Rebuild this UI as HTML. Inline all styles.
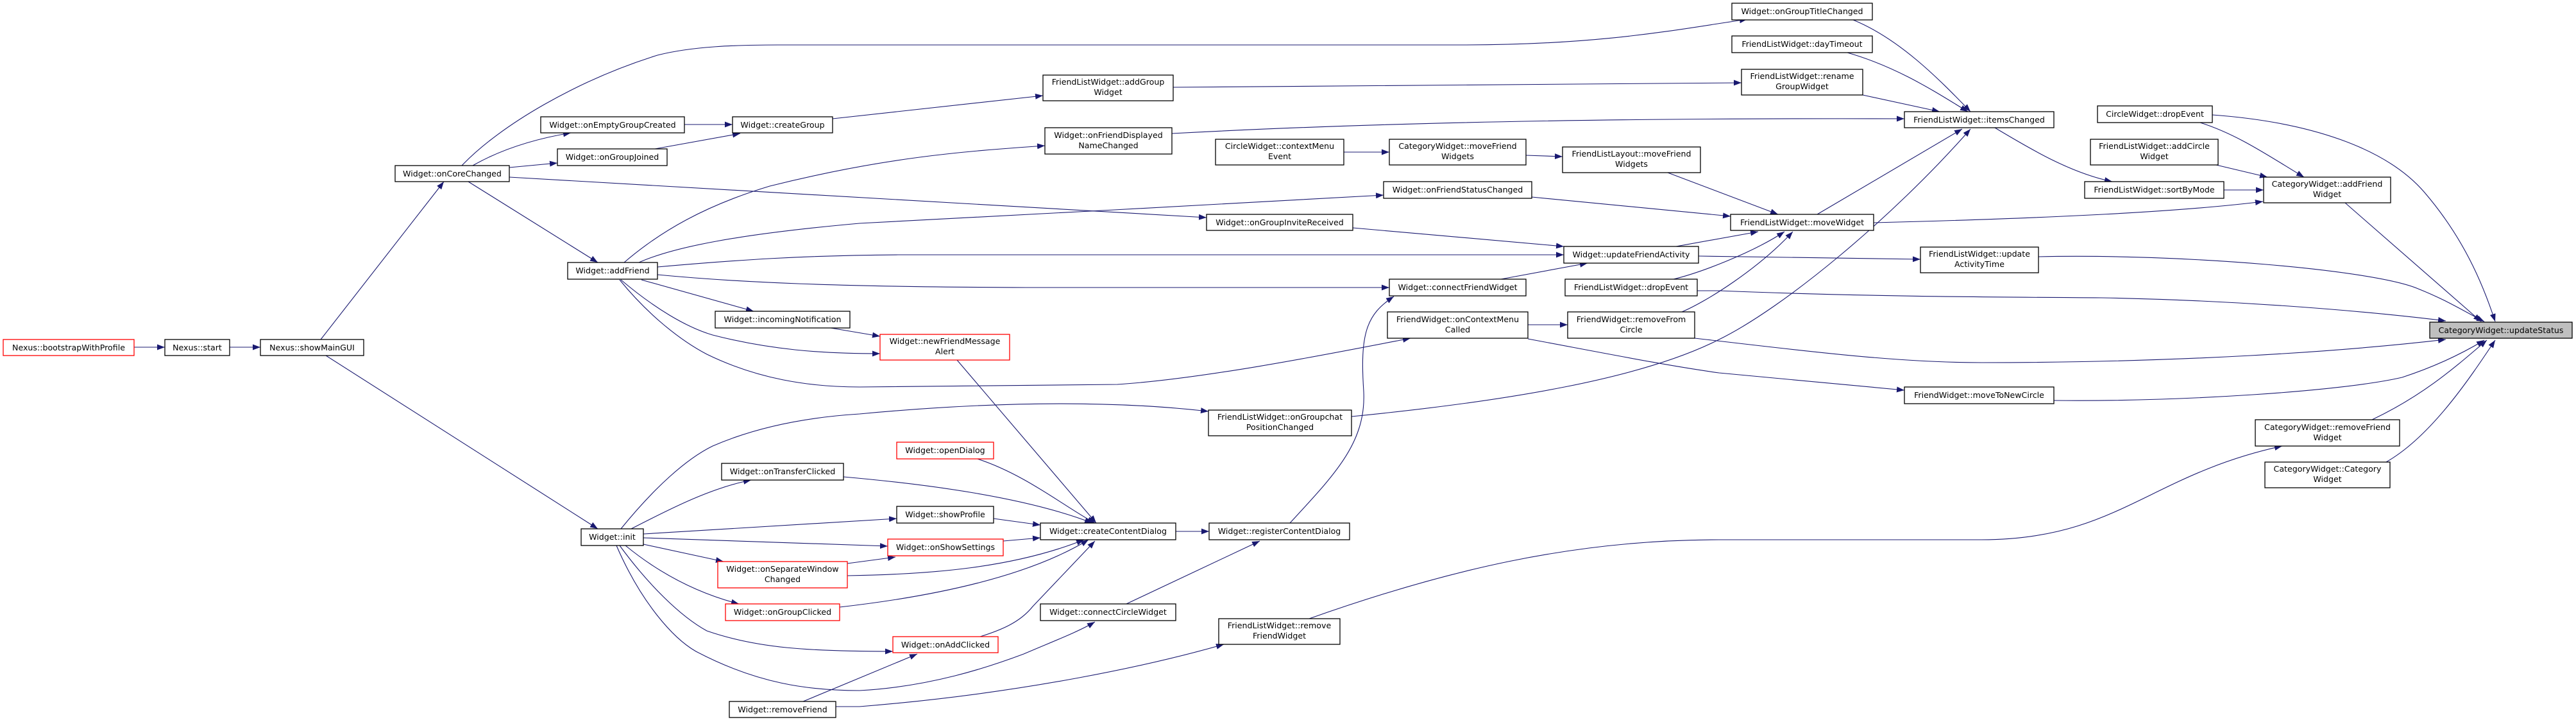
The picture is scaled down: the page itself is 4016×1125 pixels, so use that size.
<!DOCTYPE html>
<html><head><meta charset="utf-8"><style>
html,body{margin:0;padding:0;background:#fff;}
svg{display:block;}
text{font-family:"DejaVu Sans","Liberation Sans",sans-serif;font-size:12.6px;fill:#000;text-anchor:middle;}
.n{fill:#fff;stroke:#000;stroke-width:1.3;}
.r{fill:#fff;stroke:#ff0000;stroke-width:1.3;}
.g{fill:#bfbfbf;stroke:#000;stroke-width:1.3;}
.e{fill:none;stroke:#191970;stroke-width:1.1;marker-end:url(#a);}
</style></head><body>
<svg width="4016" height="1125" viewBox="0 0 4016 1125" xmlns="http://www.w3.org/2000/svg">
<defs><marker id="a" markerUnits="userSpaceOnUse" markerWidth="14" markerHeight="10" refX="12" refY="4.5" orient="auto"><path d="M0,0 L12,4.5 L0,9 z" fill="#191970"/></marker></defs>
<g>
<path class="e" d="M209,541 L257,541"/>
<path class="e" d="M358,541 L406,541"/>
<path class="e" d="M500,529 L692,283"/>
<path class="e" d="M508,554 L932,824"/>
<path class="e" d="M737,258 Q800,222 890,207"/>
<path class="e" d="M794,261 L869,254"/>
<path class="e" d="M730,283 L932,409"/>
<path class="e" d="M720,258 C780,195 900,125 1025,86 C1080,72 1150,70 1213,70 L2280,70 C2500,70 2620,45 2724,30"/>
<path class="e" d="M794,276 L1881,339"/>
<path class="e" d="M1067,194 L1142,194"/>
<path class="e" d="M1021,232 L1154,208"/>
<path class="e" d="M1298,185 L1626,149"/>
<path class="e" d="M1829,136 C2200,131 2500,128 2715,129"/>
<path class="e" d="M1827,208 C2200,188 2600,184 2969,185"/>
<path class="e" d="M973,409 C1030,360 1100,320 1200,290 C1380,245 1500,236 1629,227"/>
<path class="e" d="M996,409 C1050,385 1150,365 1340,348 C1600,333 1900,320 2157,304"/>
<path class="e" d="M1025,416 C1150,405 1250,398 1400,397 L2438,397"/>
<path class="e" d="M1025,428 C1150,440 1300,447 1600,448 L2166,448"/>
<path class="e" d="M1000,436 L1175,485"/>
<path class="e" d="M968,436 C1020,480 1070,510 1111,522 C1200,545 1280,551 1372,551"/>
<path class="e" d="M1295,511 L1372,524"/>
<path class="e" d="M966,436 C1010,490 1060,530 1102,552 C1180,590 1260,603 1340,603 L1742,599 C1880,590 2080,550 2199,527"/>
<path class="e" d="M1492,561 L1709,815"/>
<path class="e" d="M2388,307 L2698,337"/>
<path class="e" d="M2109,355 L2438,384"/>
<path class="e" d="M2340,435 L2475,410"/>
<path class="e" d="M2613,384 L2741,361"/>
<path class="e" d="M2648,399 L2994,404"/>
<path class="e" d="M2609,435 C2650,425 2730,395 2782,361"/>
<path class="e" d="M2622,486 C2660,470 2740,420 2795,361"/>
<path class="e" d="M2600,269 L2772,334"/>
<path class="e" d="M2095,237 L2166,237"/>
<path class="e" d="M2379,242 L2436,244"/>
<path class="e" d="M2382,506 L2444,506"/>
<path class="e" d="M2382,528 C2500,550 2600,570 2680,581 L2969,608"/>
<path class="e" d="M2107,649 C2350,625 2560,590 2680,529 C2780,480 2950,340 3072,201"/>
<path class="e" d="M968,824 C1020,760 1070,715 1111,695 C1180,665 1260,650 1340,645 C1500,630 1700,620 1884,641"/>
<path class="e" d="M984,824 C1050,790 1110,760 1171,748"/>
<path class="e" d="M1003,832 L1398,808"/>
<path class="e" d="M1003,838 L1384,851"/>
<path class="e" d="M1003,848 L1128,875"/>
<path class="e" d="M975,850 C1030,895 1090,925 1152,941"/>
<path class="e" d="M966,850 C1010,910 1060,960 1102,983 C1180,1010 1260,1015 1392,1015"/>
<path class="e" d="M961,850 C1000,940 1050,995 1085,1015 C1180,1065 1260,1076 1340,1076 C1450,1070 1540,1040 1596,1019 C1640,1000 1680,985 1707,969"/>
<path class="e" d="M1252,1093 L1430,1019"/>
<path class="e" d="M1303,1101 L1340,1101 C1600,1080 1800,1035 1908,1004"/>
<path class="e" d="M1315,743 C1450,755 1600,775 1703,815"/>
<path class="e" d="M1524,715 C1600,740 1660,790 1707,815"/>
<path class="e" d="M1549,808 L1622,818"/>
<path class="e" d="M1564,843 L1622,838"/>
<path class="e" d="M1321,878 L1396,868"/>
<path class="e" d="M1321,897 C1450,895 1580,885 1690,841"/>
<path class="e" d="M1309,946 C1450,930 1600,900 1697,841"/>
<path class="e" d="M1528,992 C1560,982 1590,970 1610,945 L1707,843"/>
<path class="e" d="M1833,828 L1885,828"/>
<path class="e" d="M2011,815 C2080,740 2130,690 2126,610 C2120,520 2130,490 2173,462"/>
<path class="e" d="M1756,941 L1964,843"/>
<path class="e" d="M2041,964 C2250,890 2450,841 2680,841 L3089,841 C3300,841 3350,740 3558,695"/>
<path class="e" d="M3110,199 C3170,235 3230,270 3293,283"/>
<path class="e" d="M2833,334 L3059,201"/>
<path class="e" d="M2921,347 C3200,340 3400,330 3528,314"/>
<path class="e" d="M3467,296 L3529,296"/>
<path class="e" d="M3455,257 L3535,276"/>
<path class="e" d="M3430,191 C3490,210 3540,245 3592,276"/>
<path class="e" d="M3449,179 C3600,190 3720,230 3780,300 C3840,370 3870,440 3890,501"/>
<path class="e" d="M3656,316 L3868,501"/>
<path class="e" d="M3178,400 C3400,395 3700,420 3770,450 C3820,470 3850,490 3873,501"/>
<path class="e" d="M2646,453 L2680,453 C2900,462 3100,463 3276,464 C3500,468 3700,486 3813,500"/>
<path class="e" d="M2642,527 C2800,545 2950,565 3089,565 C3400,565 3650,548 3813,529"/>
<path class="e" d="M3202,624 C3400,626 3650,610 3745,588 C3800,570 3840,550 3873,530"/>
<path class="e" d="M3698,654 C3780,615 3830,570 3877,530"/>
<path class="e" d="M3720,720 C3790,680 3850,590 3890,530"/>
<path class="e" d="M2889,31 C2960,60 3020,120 3072,174"/>
<path class="e" d="M2880,82 C2960,105 3020,145 3068,174"/>
<path class="e" d="M2904,148 L3024,174"/>
</g>
<g>
<rect class="r" x="5" y="529" width="204" height="25"/><text x="107" y="546">Nexus::bootstrapWithProfile</text>
<rect class="n" x="257" y="529" width="101" height="25"/><text x="307.5" y="546">Nexus::start</text>
<rect class="n" x="406" y="529" width="161" height="25"/><text x="486.5" y="546">Nexus::showMainGUI</text>
<rect class="n" x="616" y="258" width="178" height="25"/><text x="705" y="275">Widget::onCoreChanged</text>
<rect class="n" x="843" y="182" width="224" height="25"/><text x="955" y="199">Widget::onEmptyGroupCreated</text>
<rect class="n" x="869" y="232" width="171" height="26"/><text x="954.5" y="249">Widget::onGroupJoined</text>
<rect class="n" x="1142" y="182" width="156" height="25"/><text x="1220" y="199">Widget::createGroup</text>
<rect class="n" x="885" y="409" width="140" height="26"/><text x="955" y="426">Widget::addFriend</text>
<rect class="n" x="1115" y="485" width="210" height="26"/><text x="1220" y="502">Widget::incomingNotification</text>
<rect class="n" x="1125" y="722" width="190" height="26"/><text x="1220" y="739">Widget::onTransferClicked</text>
<rect class="n" x="906" y="824" width="97" height="26"/><text x="954.5" y="841">Widget::init</text>
<rect class="r" x="1119" y="875" width="202" height="41"/><text x="1220" y="891">Widget::onSeparateWindow</text><text x="1220" y="907">Changed</text>
<rect class="r" x="1131" y="941" width="178" height="26"/><text x="1220" y="958">Widget::onGroupClicked</text>
<rect class="n" x="1137" y="1093" width="166" height="25"/><text x="1220" y="1110">Widget::removeFriend</text>
<rect class="n" x="1626" y="117" width="203" height="40"/><text x="1727.5" y="132">FriendListWidget::addGroup</text><text x="1727.5" y="148">Widget</text>
<rect class="n" x="1629" y="199" width="198" height="41"/><text x="1728" y="215">Widget::onFriendDisplayed</text><text x="1728" y="231">NameChanged</text>
<rect class="n" x="1895" y="217" width="200" height="40"/><text x="1995" y="232">CircleWidget::contextMenu</text><text x="1995" y="248">Event</text>
<rect class="n" x="2166" y="217" width="213" height="40"/><text x="2272.5" y="232">CategoryWidget::moveFriend</text><text x="2272.5" y="248">Widgets</text>
<rect class="n" x="2436" y="229" width="215" height="40"/><text x="2543.5" y="244">FriendListLayout::moveFriend</text><text x="2543.5" y="260">Widgets</text>
<rect class="n" x="2157" y="283" width="231" height="26"/><text x="2272.5" y="300">Widget::onFriendStatusChanged</text>
<rect class="n" x="1881" y="334" width="228" height="25"/><text x="1995" y="351">Widget::onGroupInviteReceived</text>
<rect class="n" x="2438" y="384" width="210" height="26"/><text x="2543" y="401">Widget::updateFriendActivity</text>
<rect class="n" x="2166" y="435" width="213" height="26"/><text x="2272.5" y="452">Widget::connectFriendWidget</text>
<rect class="n" x="2440" y="435" width="206" height="26"/><text x="2543" y="452">FriendListWidget::dropEvent</text>
<rect class="n" x="2163" y="486" width="219" height="41"/><text x="2272.5" y="502">FriendWidget::onContextMenu</text><text x="2272.5" y="518">Called</text>
<rect class="n" x="2444" y="486" width="198" height="41"/><text x="2543" y="502">FriendWidget::removeFrom</text><text x="2543" y="518">Circle</text>
<rect class="r" x="1372" y="521" width="202" height="40"/><text x="1473" y="536">Widget::newFriendMessage</text><text x="1473" y="552">Alert</text>
<rect class="n" x="1884" y="639" width="223" height="40"/><text x="1995.5" y="654">FriendListWidget::onGroupchat</text><text x="1995.5" y="670">PositionChanged</text>
<rect class="r" x="1398" y="689" width="151" height="26"/><text x="1473.5" y="706">Widget::openDialog</text>
<rect class="n" x="1398" y="789" width="151" height="26"/><text x="1473.5" y="806">Widget::showProfile</text>
<rect class="n" x="1622" y="815" width="211" height="26"/><text x="1727.5" y="832">Widget::createContentDialog</text>
<rect class="n" x="1885" y="815" width="219" height="26"/><text x="1994.5" y="832">Widget::registerContentDialog</text>
<rect class="r" x="1384" y="840" width="180" height="26"/><text x="1474" y="857">Widget::onShowSettings</text>
<rect class="n" x="1622" y="941" width="211" height="26"/><text x="1727.5" y="958">Widget::connectCircleWidget</text>
<rect class="r" x="1392" y="992" width="164" height="25"/><text x="1474" y="1009">Widget::onAddClicked</text>
<rect class="n" x="1900" y="964" width="189" height="40"/><text x="1994.5" y="979">FriendListWidget::remove</text><text x="1994.5" y="995">FriendWidget</text>
<rect class="n" x="2700" y="5" width="219" height="26"/><text x="2809.5" y="22">Widget::onGroupTitleChanged</text>
<rect class="n" x="2700" y="56" width="219" height="26"/><text x="2809.5" y="73">FriendListWidget::dayTimeout</text>
<rect class="n" x="2715" y="108" width="189" height="40"/><text x="2809.5" y="123">FriendListWidget::rename</text><text x="2809.5" y="139">GroupWidget</text>
<rect class="n" x="2969" y="174" width="233" height="25"/><text x="3085.5" y="191">FriendListWidget::itemsChanged</text>
<rect class="n" x="3270" y="165" width="179" height="26"/><text x="3359.5" y="182">CircleWidget::dropEvent</text>
<rect class="n" x="3259" y="217" width="199" height="40"/><text x="3358.5" y="232">FriendListWidget::addCircle</text><text x="3358.5" y="248">Widget</text>
<rect class="n" x="3250" y="283" width="217" height="26"/><text x="3358.5" y="300">FriendListWidget::sortByMode</text>
<rect class="n" x="3529" y="276" width="198" height="40"/><text x="3628" y="291">CategoryWidget::addFriend</text><text x="3628" y="307">Widget</text>
<rect class="n" x="2698" y="334" width="223" height="25"/><text x="2809.5" y="351">FriendListWidget::moveWidget</text>
<rect class="n" x="2994" y="385" width="184" height="40"/><text x="3086" y="400">FriendListWidget::update</text><text x="3086" y="416">ActivityTime</text>
<rect class="g" x="3788" y="502" width="222" height="25"/><text x="3899" y="519">CategoryWidget::updateStatus</text>
<rect class="n" x="2969" y="603" width="233" height="26"/><text x="3085.5" y="620">FriendWidget::moveToNewCircle</text>
<rect class="n" x="3516" y="654" width="225" height="41"/><text x="3628.5" y="670">CategoryWidget::removeFriend</text><text x="3628.5" y="686">Widget</text>
<rect class="n" x="3531" y="720" width="195" height="40"/><text x="3628.5" y="735">CategoryWidget::Category</text><text x="3628.5" y="751">Widget</text>
</g>
</svg>
</body></html>
